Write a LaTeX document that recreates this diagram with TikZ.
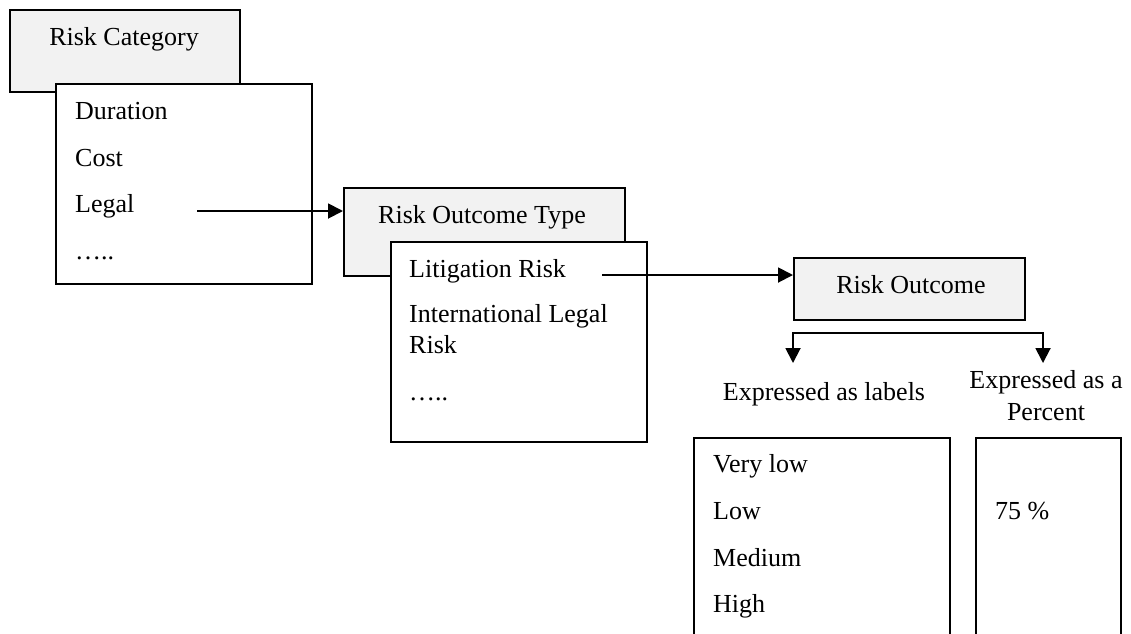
\documentclass[tikz,border=0pt]{standalone}
\usepackage{fontspec}
\setmainfont{Liberation Serif}
\usetikzlibrary{arrows.meta}
\definecolor{boxgray}{HTML}{F2F2F2}
\tikzset{
  headbox/.style = {draw=black, fill=boxgray, line width=1.9pt, anchor=north west, inner sep=0pt},
  listbox/.style = {draw=black, fill=white, line width=1.9pt, anchor=north west, inner sep=0pt},
  entry/.style = {anchor=base west, inner sep=0pt},
  title/.style = {anchor=base, inner sep=0pt},
  link/.style = {line width=1.9pt, -{Triangle[length=15pt,width=15pt]}},
  fork/.style = {line width=1.9pt, {Triangle[length=15pt,width=15pt]}-{Triangle[length=15pt,width=15pt]}},
}

\begin{document}
\begin{tikzpicture}[x=1pt, y=1pt, font=\fontsize{26}{30}\selectfont]
  \useasboundingbox (0,0) rectangle (1131,-633);

  % risk category
  \node [headbox, minimum width=230pt, minimum height=82pt] (cat) at (9,-9) {};
  \node [title] (catname) at (124,-45) {Risk Category};
  \node [listbox, minimum width=256pt, minimum height=200pt] (catlist) at (55,-83) {};
  \node [entry] (duration) at (75,-119) {Duration};
  \node [entry] (cost) at (75,-166) {Cost};
  \node [entry] (legal) at (75,-212) {Legal};
  \node [entry] (catmore) at (75,-259) {…..};

  % risk outcome type
  \node [headbox, minimum width=281pt, minimum height=88pt] (otype) at (343,-187) {};
  \node [title] (otypename) at (482,-223) {Risk Outcome Type};
  \node [listbox, minimum width=256pt, minimum height=200pt] (otypelist) at (390,-241) {};
  \node [entry] (litigation) at (409,-277) {Litigation Risk};
  \node [entry] (intl) at (409,-322) {International Legal};
  \node [entry] (intlrisk) at (409,-353) {Risk};
  \node [entry] (otypemore) at (409,-400) {…..};

  % risk outcome
  \node [headbox, minimum width=231pt, minimum height=62pt] (rout) at (793,-257) {};
  \node [title] (routname) at (911,-293) {Risk Outcome};

  \node [title] (lblname) at (824,-400) {Expressed as labels};
  \node [title] (pctname) at (1046,-388) {Expressed as a};
  \node [title] (pctname2) at (1046,-420) {Percent};

  \node [listbox, minimum width=256pt, minimum height=230pt] (lblbox) at (693,-437) {};
  \node [entry] (verylow) at (713,-472) {Very low};
  \node [entry] (low) at (713,-519) {Low};
  \node [entry] (medium) at (713,-566) {Medium};
  \node [entry] (high) at (713,-612) {High};
  \node [listbox, minimum width=145pt, minimum height=230pt] (pctbox) at (975,-437) {};
  \node [entry] (pct) at (995,-519) {75 \%};

  % connectors
  \coordinate (legalout) at (197,-211);
  \coordinate (litout) at (602,-275);
  \coordinate (lblhead) at (793,-363);
  \coordinate (pcthead) at (1043,-363);
  \draw [link] (legalout) -- (legalout -| otype.west);
  \draw [link] (litout) -- (litout -| rout.west);
  \draw [fork] (lblhead) -- ++(0,30) -| (pcthead);
\end{tikzpicture}
\end{document}
